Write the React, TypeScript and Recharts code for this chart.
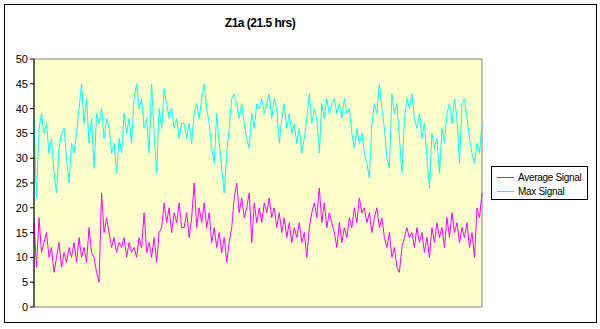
import React from "react";
import { LineChart, Line, XAxis, YAxis, ReferenceArea } from "recharts";

// readings sampled along the 21.5 hr run, left to right
const avgSignal = [
  17, 8, 18, 11, 13, 15, 10, 12, 7, 10, 13, 8, 11, 9, 12, 10, 13, 9, 14, 10, 12, 9, 16, 11, 10, 7, 5, 23, 15, 18,
  15, 12, 14, 11, 13, 12, 14, 10, 13, 11, 12, 10, 14, 12, 19, 11, 13, 10, 14, 9, 15, 16, 21, 17, 20, 15, 19, 17, 21, 16,
  16, 19, 14, 18, 25, 16, 20, 17, 21, 16, 19, 13, 16, 12, 15, 11, 14, 9, 13, 16, 22, 25, 19, 22, 18, 20, 23, 13, 21, 17,
  20, 17, 21, 19, 22, 18, 20, 16, 19, 15, 18, 14, 17, 13, 16, 14, 17, 13, 15, 10, 16, 19, 21, 18, 24, 17, 21, 16, 19, 17,
  15, 12, 17, 13, 16, 14, 18, 16, 20, 17, 22, 19, 20, 17, 19, 15, 18, 20, 16, 18, 14, 12, 15, 10, 12, 8, 7, 12, 14, 16,
  14, 15, 12, 16, 13, 15, 11, 14, 10, 16, 13, 17, 14, 16, 12, 18, 14, 19, 15, 17, 13, 16, 14, 17, 12, 15, 10, 20, 18, 23,
];

const maxSignal = [
  38, 22, 36, 39, 35, 37, 31, 34, 27, 23, 32, 35, 36, 30, 25, 33, 31, 35, 40, 45, 37, 42, 33, 38, 28, 39, 37, 40, 34, 38,
  36, 31, 33, 27, 34, 31, 39, 35, 38, 33, 42, 45, 40, 42, 36, 38, 31, 45, 35, 27, 40, 36, 44, 41, 38, 40, 36, 38, 34, 37,
  37, 34, 37, 33, 39, 41, 38, 42, 45, 40, 37, 32, 29, 39, 33, 28, 23, 31, 36, 42, 43, 41, 38, 41, 37, 34, 32, 39, 36, 41,
  40, 42, 39, 41, 43, 38, 42, 40, 33, 38, 41, 36, 39, 35, 37, 33, 36, 31, 34, 38, 43, 37, 40, 38, 31, 41, 38, 42, 39, 41,
  42, 39, 41, 38, 42, 39, 40, 35, 32, 36, 33, 35, 31, 29, 26, 37, 41, 39, 45, 40, 36, 30, 28, 43, 39, 41, 34, 27, 38, 42,
  40, 43, 38, 36, 39, 34, 37, 30, 24, 35, 32, 34, 27, 36, 33, 39, 41, 37, 42, 38, 29, 41, 42, 38, 34, 31, 29, 33, 31, 37,
];

const yTicks = [0, 5, 10, 15, 20, 25, 30, 35, 40, 45, 50];

const data = avgSignal.map((v, i) => ({ t: i, avg: v, max: maxSignal[i] }));

const legendItems = [
  { label: "Average Signal", color: "#FF00FF" },
  { label: "Max Signal", color: "#00FFFF" },
];

const font = "'Liberation Sans', Arial, sans-serif";

export default function App() {
  return (
    <div
      style={{
        position: "absolute",
        left: 0,
        top: 0,
        width: 600,
        height: 329,
        background: "#fff",
        fontFamily: font,
      }}
    >
      <div
        style={{
          position: "absolute",
          left: 4,
          top: 4,
          width: 591,
          height: 317,
          border: "1px solid #000",
        }}
      />
      <div
        style={{
          position: "absolute",
          left: 160,
          width: 200,
          top: 16,
          textAlign: "center",
          fontWeight: "bold",
          fontSize: 12,
          letterSpacing: -0.5,
        }}
      >
        Z1a (21.5 hrs)
      </div>
      <div style={{ position: "absolute", left: 0, top: 0 }}>
        <LineChart width={600} height={329} data={data} margin={{ top: 59, right: 118, bottom: 22, left: 0 }}>
          <XAxis dataKey="t" type="number" domain={[0, data.length - 1]} hide />
          <YAxis
            width={34}
            domain={[0, 50]}
            ticks={yTicks}
            interval={0}
            tickSize={4}
            tickMargin={2}
            axisLine={{ stroke: "#000" }}
            tickLine={{ stroke: "#000" }}
            tick={{ fill: "#000", fontSize: 11, fontFamily: font }}
          />
          <ReferenceArea
            x1={0}
            x2={data.length - 1}
            y1={0}
            y2={50}
            fill="#FFFFCC"
            fillOpacity={1}
            stroke="#808080"
            strokeWidth={1}
          />
          <Line
            type="linear"
            dataKey="avg"
            name="Average Signal"
            stroke="#FF00FF"
            strokeWidth={1}
            dot={false}
            isAnimationActive={false}
          />
          <Line
            type="linear"
            dataKey="max"
            name="Max Signal"
            stroke="#00FFFF"
            strokeWidth={1}
            dot={false}
            isAnimationActive={false}
          />
        </LineChart>
      </div>
      <div
        style={{
          position: "absolute",
          left: 491,
          top: 166,
          width: 97,
          height: 34,
          border: "1px solid #000",
          background: "#fff",
          boxSizing: "border-box",
          padding: "3px 0 0 5px",
        }}
      >
        {legendItems.map((it) => (
          <div key={it.label} style={{ display: "flex", alignItems: "center", height: 14 }}>
            <div style={{ width: 17, height: 1, backgroundColor: it.color, marginRight: 4, flexShrink: 0 }} />
            <span style={{ fontSize: 10, letterSpacing: -0.3, color: "#000", whiteSpace: "nowrap" }}>{it.label}</span>
          </div>
        ))}
      </div>
    </div>
  );
}
